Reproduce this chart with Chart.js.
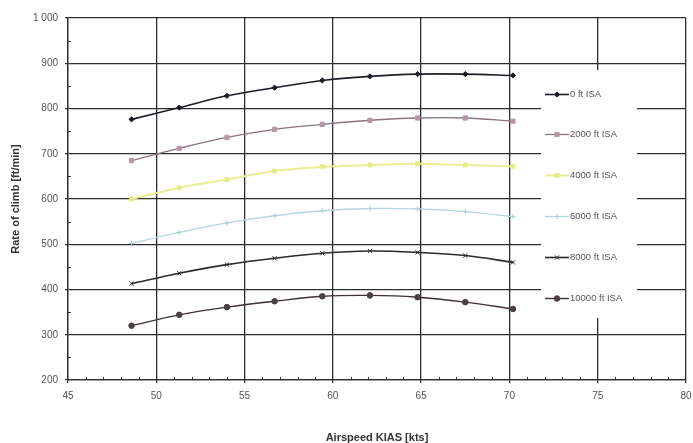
<!DOCTYPE html>
<html>
<head>
<meta charset="utf-8">
<script src="https://cdn.jsdelivr.net/npm/chart.js@4.4.1/dist/chart.umd.min.js"></script>
<style>
  html, body { margin: 0; padding: 0; background: #fff; }
  #wrap { width: 693px; height: 443px; position: relative; }
</style>
</head>
<body>
<div id="wrap"><canvas id="chart"></canvas></div>
<script>
// airspeed of each measured point [kts]
const airspeed = [48.6, 51.3, 54.0, 56.7, 59.4, 62.1, 64.8, 67.5, 70.2];

// rate of climb [ft/min] per altitude
const roc0 = [776, 802, 828, 846, 862, 871, 876, 876, 873];
const roc2000 = [685, 712, 736, 754, 765, 774, 779, 779, 772];
const roc4000 = [600, 625, 643, 662, 671, 675, 678, 675, 672];
const roc6000 = [502, 526, 547, 563, 574, 579, 578, 572, 561];
const roc8000 = [413, 436, 455, 469, 480, 485, 482, 475, 460];
const roc10000 = [320, 344, 361, 374, 385, 387, 383, 372, 357];

const seriesNames = ['0 ft ISA', '2000 ft ISA', '4000 ft ISA', '6000 ft ISA', '8000 ft ISA', '10000 ft ISA'];

const xTicks = [45, 50, 55, 60, 65, 70, 75, 80];
const yTicks = [200, 300, 400, 500, 600, 700, 800, 900, 1000];

const FONT = "'Liberation Sans Narrow', 'Liberation Sans', Arial, sans-serif";

function pts(values) {
  return values.map((v, i) => ({ x: airspeed[i], y: v }));
}

const styles = [
  { line: '#1d1d28', fill: '#1d1d28', shape: 'rectRot', r: 2.6, w: 1.6 },
  { line: '#8c7282', fill: '#b797a7', shape: 'rect', r: 3, w: 1.3 },
  { line: '#ebef92', fill: '#e6ec84', shape: 'rect', r: 2.8, w: 2 },
  { line: '#b4d6de', fill: '#a8cdd6', shape: 'cross', r: 2.6, w: 1.3 },
  { line: '#2b2b2b', fill: '#2b2b2b', shape: 'crossRot', r: 3, w: 1.6 },
  { line: '#3d3036', fill: '#4a4046', shape: 'circle', r: 2.8, w: 1.4 },
];

const allSeries = [roc0, roc2000, roc4000, roc6000, roc8000, roc10000];

const datasets = allSeries.map((vals, i) => ({
  label: seriesNames[i],
  data: pts(vals),
  borderColor: styles[i].line,
  backgroundColor: styles[i].fill,
  borderWidth: styles[i].w,
  pointStyle: styles[i].shape,
  pointRadius: styles[i].r,
  pointBorderColor: styles[i].fill,
  pointBackgroundColor: styles[i].fill,
  pointBorderWidth: 1,
  tension: 0.35,
  showLine: true,
  fill: false,
}));

// minor ticks: every 1 kt on x, every 50 ft/min on y
const minorTicks = {
  id: 'minorTicks',
  afterDatasetsDraw(chart) {
    const { ctx, scales, chartArea } = chart;
    ctx.save();
    ctx.strokeStyle = '#333';
    ctx.lineWidth = 1;
    for (let v = 46; v < 80; v++) {
      if (v % 5 === 0) continue;
      const x = Math.round(scales.x.getPixelForValue(v)) + 0.5;
      ctx.beginPath();
      ctx.moveTo(x, chartArea.bottom - 3);
      ctx.lineTo(x, chartArea.bottom);
      ctx.stroke();
    }
    for (let v = 250; v < 1000; v += 100) {
      const y = Math.round(scales.y.getPixelForValue(v)) + 0.5;
      ctx.beginPath();
      ctx.moveTo(chartArea.left, y);
      ctx.lineTo(chartArea.left + 3, y);
      ctx.stroke();
    }
    ctx.restore();
  }
};

// legend box sitting inside the plot area, on top of the grid
const insideLegend = {
  id: 'insideLegend',
  beforeDatasetsDraw(chart) {
    const { ctx, chartArea } = chart;
    const boxL = chartArea.right - 145, boxR = chartArea.right - 49;
    const boxT = chartArea.top + 52, boxB = chartArea.top + 300;
    ctx.save();
    ctx.fillStyle = '#fff';
    ctx.fillRect(boxL, boxT, boxR - boxL, boxB - boxT);
    ctx.restore();
  },
  afterDatasetsDraw(chart) {
    const { ctx, chartArea } = chart;
    const x0 = chartArea.right - 141;
    const y0 = chartArea.top + 75.5;
    ctx.save();
    chart.data.datasets.forEach((ds, i) => {
      const y = Math.round(y0 + i * 40.8) + 0.5;
      ctx.strokeStyle = ds.borderColor;
      ctx.lineWidth = ds.borderWidth;
      ctx.beginPath();
      ctx.moveTo(x0, y);
      ctx.lineTo(x0 + 24, y);
      ctx.stroke();
      ctx.fillStyle = ds.pointBackgroundColor;
      ctx.strokeStyle = ds.pointBorderColor;
      ctx.lineWidth = ds.pointBorderWidth;
      Chart.helpers.drawPoint(ctx, {
        pointStyle: ds.pointStyle,
        radius: ds.pointRadius,
        borderWidth: ds.pointBorderWidth,
      }, x0 + 12, y);
      ctx.fillStyle = '#555';
      ctx.font = '9.5px ' + FONT;
      ctx.textBaseline = 'middle';
      ctx.textAlign = 'left';
      ctx.fillText(ds.label, x0 + 25, y);
    });
    ctx.restore();
  }
};

new Chart(document.getElementById('chart'), {
  type: 'scatter',
  data: { datasets: datasets },
  options: {
    responsive: true,
    maintainAspectRatio: false,
    animation: false,
    layout: { padding: { top: 18, right: 7, bottom: 0, left: 0 } },
    plugins: {
      legend: { display: false },
      tooltip: { enabled: false },
    },
    scales: {
      x: {
        type: 'linear',
        min: 45,
        max: 80,
        afterBuildTicks(scale) { scale.ticks = xTicks.map(v => ({ value: v })); },
        afterFit(scale) {
          scale.height = 63;
          scale.paddingLeft = 0;
          scale.paddingRight = 0;
        },
        grid: { color: '#2e2e2e', lineWidth: 1.3, tickLength: 3 },
        border: { color: '#2e2e2e', width: 1.3 },
        ticks: { color: '#555', font: { family: FONT, size: 10 }, padding: 7 },
        title: {
          display: true,
          text: 'Airspeed KIAS [kts]',
          color: '#333',
          font: { family: "'Liberation Sans', Arial, sans-serif", size: 11, weight: 'bold' },
          padding: { top: 0, bottom: -2 },
        },
      },
      y: {
        min: 200,
        max: 1000,
        afterBuildTicks(scale) { scale.ticks = yTicks.map(v => ({ value: v })); },
        afterFit(scale) { scale.width = 68; },
        grid: { color: '#2e2e2e', lineWidth: 1.3, tickLength: 3 },
        border: { color: '#2e2e2e', width: 1.3 },
        ticks: {
          color: '#555',
          font: { family: FONT, size: 10 },
          padding: 7,
          callback: v => String(v).replace(/\B(?=(\d{3})+(?!\d))/g, ' '),
        },
        title: {
          display: true,
          text: 'Rate of climb [ft/min]',
          color: '#333',
          font: { family: "'Liberation Sans', Arial, sans-serif", size: 11, weight: 'bold' },
          padding: { top: 9, bottom: 0 },
        },
      },
    },
  },
  plugins: [insideLegend, minorTicks],
});
</script>
</body>
</html>
